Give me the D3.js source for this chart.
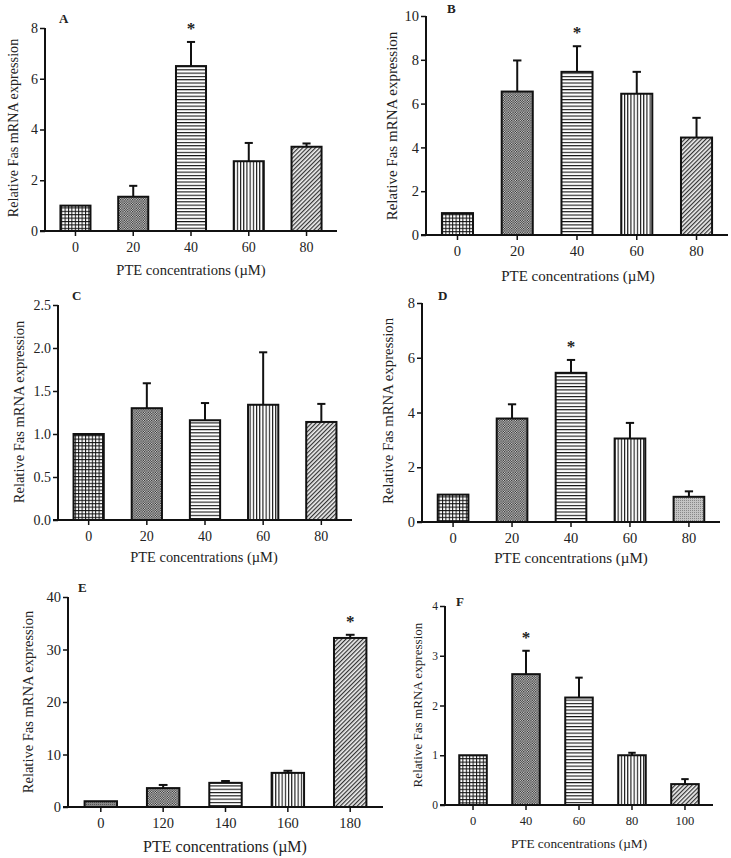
<!DOCTYPE html>
<html>
<head>
<meta charset="utf-8">
<script src="https://cdn.jsdelivr.net/npm/d3@7"></script>
<style>
  html, body { margin: 0; padding: 0; background: #fff; }
  svg { display: block; }
  text { font-family: "Liberation Serif", "Times New Roman", serif; fill: #222; }
</style>
</head>
<body>
<svg id="chart" width="731" height="858"></svg>
<script>
// ---------- DATA ----------
const catsA = ["0", "20", "40", "60", "80"];
const meanA = [1.0, 1.35, 6.5, 2.75, 3.32];
const errA  = [0, 0.43, 0.95, 0.72, 0.13];
const starA = [false, false, true, false, false];
const ticksA = [0, 2, 4, 6, 8];

const catsB = ["0", "20", "40", "60", "80"];
const meanB = [1.0, 6.55, 7.45, 6.45, 4.45];
const errB  = [0, 1.42, 1.17, 1.0, 0.9];
const starB = [false, false, true, false, false];
const ticksB = [0, 2, 4, 6, 8, 10];

const catsC = ["0", "20", "40", "60", "80"];
const meanC = [1.0, 1.30, 1.16, 1.34, 1.14];
const errC  = [0, 0.29, 0.20, 0.61, 0.21];
const starC = [false, false, false, false, false];
const ticksC = [0, 0.5, 1.0, 1.5, 2.0, 2.5];

const catsD = ["0", "20", "40", "60", "80"];
const meanD = [1.0, 3.78, 5.45, 3.05, 0.92];
const errD  = [0, 0.52, 0.47, 0.57, 0.2];
const starD = [false, false, true, false, false];
const ticksD = [0, 2, 4, 6, 8];

const catsE = ["0", "120", "140", "160", "180"];
const meanE = [1.1, 3.6, 4.6, 6.5, 32.2];
const errE  = [0, 0.6, 0.35, 0.4, 0.6];
const starE = [false, false, false, false, true];
const ticksE = [0, 10, 20, 30, 40];

const catsF = ["0", "40", "60", "80", "100"];
const meanF = [1.0, 2.63, 2.16, 1.0, 0.42];
const errF  = [0, 0.47, 0.4, 0.05, 0.1];
const starF = [false, true, false, false, false];
const ticksF = [0, 1, 2, 3, 4];

const panelLabels = ["A", "B", "C", "D", "E", "F"];
const yTitle = "Relative Fas mRNA expression";
const xTitle = "PTE concentrations (\u00B5M)";

// ---------- LAYOUT (positions / styles) ----------
const layouts = [
  { x0: 45,  x1: 337, y0: 231, yTop: 28,  max: 8,   fmt: d3.format("d"),
    pats: ["grid","check","hline","vline","diag"],
    lab: [59, 23], yt: [13, 128, 14.2], xt: [191, 275, 14.6], tick: 14, ytick: 14 },
  { x0: 426, x1: 728, y0: 235, yTop: 16,  max: 10,  fmt: d3.format("d"),
    pats: ["grid","check","hline","vline","diag"],
    lab: [447, 13], yt: [392, 126, 15], xt: [578, 281, 15], tick: 14.5, ytick: 14.5 },
  { x0: 58,  x1: 352, y0: 520, yTop: 305, max: 2.5, fmt: d3.format(".1f"),
    pats: ["grid","check","hline","vline","diag"],
    lab: [72, 300], yt: [19, 412, 14.5], xt: [204, 562, 14.4], tick: 14, ytick: 14 },
  { x0: 422, x1: 720, y0: 522, yTop: 303, max: 8,   fmt: d3.format("d"),
    pats: ["grid","check","hline","vline","grayL"],
    lab: [438, 300], yt: [388, 411, 14.8], xt: [571, 563, 15], tick: 14.5, ytick: 14.5 },
  { x0: 68,  x1: 383, y0: 807, yTop: 597, max: 40,  fmt: d3.format("d"),
    pats: ["grayD","check","hline","vline","diag"],
    lab: [78, 592], yt: [28, 702, 14.5], xt: [225, 852, 16], tick: 14.5, ytick: 14.5 },
  { x0: 445, x1: 713, y0: 805, yTop: 606, max: 4,   fmt: d3.format("d"),
    pats: ["grid","check","hline","vline","diag"],
    lab: [456, 606], yt: [417, 705, 13.1], xt: [579, 848, 13.3], tick: 12.5, ytick: 11.5 }
];

const panelData = [
  { cats: catsA, mean: meanA, err: errA, star: starA, ticks: ticksA },
  { cats: catsB, mean: meanB, err: errB, star: starB, ticks: ticksB },
  { cats: catsC, mean: meanC, err: errC, star: starC, ticks: ticksC },
  { cats: catsD, mean: meanD, err: errD, star: starD, ticks: ticksD },
  { cats: catsE, mean: meanE, err: errE, star: starE, ticks: ticksE },
  { cats: catsF, mean: meanF, err: errF, star: starF, ticks: ticksF }
];

const svg = d3.select("#chart");
svg.append("rect").attr("width", 731).attr("height", 858).attr("fill", "#fff");

// ---------- PATTERNS ----------
const defs = svg.append("defs");
function pat(id, w, h) {
  return defs.append("pattern").attr("id", id).attr("patternUnits", "userSpaceOnUse")
    .attr("width", w).attr("height", h);
}
{
  const p = pat("grid", 3.4, 3.4);
  p.append("rect").attr("width", 3.4).attr("height", 3.4).attr("fill", "#fff");
  p.append("path").attr("d", "M0,0.5H3.4M0.5,0V3.4").attr("stroke", "#111").attr("stroke-width", 1);
}
{
  const p = pat("check", 2.4, 2.4);
  p.append("rect").attr("width", 2.4).attr("height", 2.4).attr("fill", "#ddd");
  p.append("rect").attr("width", 1.2).attr("height", 1.2).attr("fill", "#222");
  p.append("rect").attr("x", 1.2).attr("y", 1.2).attr("width", 1.2).attr("height", 1.2).attr("fill", "#222");
}
{
  const p = pat("hline", 4, 3.3);
  p.append("rect").attr("width", 4).attr("height", 3.3).attr("fill", "#fff");
  p.append("rect").attr("width", 4).attr("height", 1.1).attr("fill", "#111");
}
{
  const p = pat("vline", 3.2, 4);
  p.append("rect").attr("width", 3.2).attr("height", 4).attr("fill", "#fff");
  p.append("rect").attr("width", 1.1).attr("height", 4).attr("fill", "#111");
}
{
  const p = pat("diag", 3, 3).attr("patternTransform", "rotate(45)");
  p.append("rect").attr("width", 3).attr("height", 3).attr("fill", "#eee");
  p.append("rect").attr("width", 1.2).attr("height", 3).attr("fill", "#333");
}
{
  const p = pat("grayD", 2, 2);
  p.append("rect").attr("width", 2).attr("height", 2).attr("fill", "#888");
  p.append("rect").attr("width", 1).attr("height", 1).attr("fill", "#555");
}
{
  const p = pat("grayL", 2, 2);
  p.append("rect").attr("width", 2).attr("height", 2).attr("fill", "#c4c4c4");
  p.append("rect").attr("width", 1).attr("height", 1).attr("fill", "#888");
}

// ---------- DRAW ----------
panelData.forEach((pd, i) => {
  const L = layouts[i];
  const g = svg.append("g");
  const x = d3.scaleBand().domain(pd.cats).range([L.x0 + 1, L.x1 - 1])
    .paddingInner(0.48).paddingOuter(0.25);
  const y = d3.scaleLinear().domain([0, L.max]).range([L.y0, L.yTop]);

  // bars
  const rows = pd.cats.map((c, k) => ({ c, m: pd.mean[k], e: pd.err[k], s: pd.star[k], p: L.pats[k] }));
  g.selectAll("rect.bar").data(rows).join("rect").attr("class", "bar")
    .attr("x", d => x(d.c)).attr("width", x.bandwidth())
    .attr("y", d => y(d.m)).attr("height", d => y(0) - y(d.m))
    .attr("fill", d => `url(#${d.p})`).attr("stroke", "#111").attr("stroke-width", 2);

  // error bars (upper only)
  const capW = Math.max(6, x.bandwidth() * 0.27);
  rows.filter(d => d.e > 0).forEach(d => {
    const cx = x(d.c) + x.bandwidth() / 2;
    g.append("line").attr("x1", cx).attr("x2", cx).attr("y1", y(d.m)).attr("y2", y(d.m + d.e))
      .attr("stroke", "#111").attr("stroke-width", 2);
    g.append("line").attr("x1", cx - capW / 2).attr("x2", cx + capW / 2)
      .attr("y1", y(d.m + d.e)).attr("y2", y(d.m + d.e))
      .attr("stroke", "#111").attr("stroke-width", 2);
  });

  // stars
  rows.filter(d => d.s).forEach(d => {
    const cx = x(d.c) + x.bandwidth() / 2;
    g.append("text").attr("x", cx).attr("y", y(d.m + d.e) - 8)
      .attr("text-anchor", "middle").attr("font-size", 17).attr("font-weight", "bold")
      .text("*");
  });

  // y axis
  const yAxis = d3.axisLeft(y).tickValues(pd.ticks).tickFormat(L.fmt).tickSize(5).tickPadding(2);
  const ya = g.append("g").attr("transform", `translate(${L.x0},0)`).call(yAxis);
  ya.select(".domain").attr("d", `M0,${L.y0}V${L.yTop}`).attr("stroke", "#111").attr("stroke-width", 2);
  ya.selectAll(".tick line").attr("stroke", "#111").attr("stroke-width", 1.5);
  ya.selectAll(".tick text").attr("font-size", L.ytick)
    .attr("font-family", '"Liberation Serif", serif').attr("fill", "#222");

  // x axis
  const xAxis = d3.axisBottom(x).tickSize(5).tickPadding(6);
  const xa = g.append("g").attr("transform", `translate(0,${L.y0})`).call(xAxis);
  xa.select(".domain").attr("d", `M${L.x0 - 5},0H${L.x1}`).attr("stroke", "#111").attr("stroke-width", 2);
  xa.selectAll(".tick line").attr("stroke", "#111").attr("stroke-width", 1.5);
  xa.selectAll(".tick text").attr("font-size", L.tick)
    .attr("font-family", '"Liberation Serif", serif').attr("fill", "#222");

  // titles
  g.append("text").attr("transform", `translate(${L.yt[0]},${L.yt[1]}) rotate(-90)`)
    .attr("text-anchor", "middle").attr("dominant-baseline", "central")
    .attr("font-size", L.yt[2]).text(yTitle);
  g.append("text").attr("x", L.xt[0]).attr("y", L.xt[1]).attr("text-anchor", "middle")
    .attr("font-size", L.xt[2]).text(xTitle);

  // panel label
  g.append("text").attr("x", L.lab[0]).attr("y", L.lab[1]).attr("font-size", 13)
    .attr("font-weight", "bold").text(panelLabels[i]);
});
</script>
</body>
</html>
